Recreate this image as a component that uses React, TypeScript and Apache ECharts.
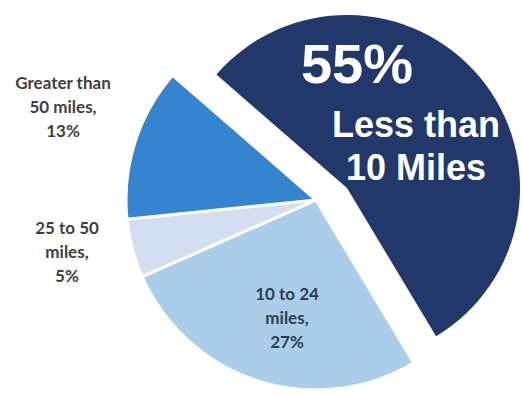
import React, { useEffect, useRef } from "react";
import * as echarts from "echarts";

const categories = ["Less than 10 Miles", "10 to 24 miles", "25 to 50 miles", "Greater than 50 miles"];
const shares = [55, 27, 5, 13];
const labelTexts = ["Less than\n10 Miles", "10 to 24\nmiles,", "25 to 50\nmiles,", "Greater than\n50 miles,"];

const sliceColors = ["#22386a", "#abcdea", "#d3dff0", "#3584cf"];
const labelColors = ["#ffffff", "#2c3e50", "#3f3f3f", "#3f3f3f"];
// label anchor points (centre of each label block)
const labelAnchors: [number, number][] = [
  [416, 106],
  [287, 317],
  [67, 251],
  [63, 106],
];

export default function App() {
  const ref = useRef<HTMLDivElement>(null);
  useEffect(() => {
    document.body.style.margin = "0";
    if (!ref.current) return;
    const chart = echarts.init(ref.current, undefined, { renderer: "svg" });
    const hidden = { color: "rgba(0,0,0,0)", borderWidth: 0 };

    const darkData = shares.map((v, i) => ({
      name: categories[i],
      value: v,
      itemStyle: i === 0 ? { color: sliceColors[0], borderWidth: 0 } : hidden,
      label: i === 0 ? { show: true } : { show: false },
    }));
    const restData = shares.map((v, i) => ({
      name: categories[i],
      value: v,
      itemStyle: i === 0 ? hidden : { color: sliceColors[i], borderColor: "#ffffff", borderWidth: 3 },
      label: i === 0 ? { show: false } : { show: true, color: labelColors[i] },
    }));

    const layout = (p: any) => {
      const [x, y] = labelAnchors[p.dataIndex];
      return { x, y, align: "center", verticalAlign: "middle" };
    };

    chart.setOption({
      animation: false,
      backgroundColor: "#ffffff",
      series: [
        {
          type: "pie",
          center: [347, 188],
          radius: 173,
          startAngle: 139,
          clockwise: true,
          silent: true,
          avoidLabelOverlap: false,
          labelLine: { show: false },
          label: {
            position: "outside",
            formatter: (p: any) =>
              `{pct|${shares[p.dataIndex]}%}\n{main|${labelTexts[p.dataIndex].split("\n")[0]}}\n{main|${labelTexts[p.dataIndex].split("\n")[1]}}`,
            rich: {
              pct: {
                fontFamily: "Liberation Sans, Arial, sans-serif",
                fontWeight: "bold",
                fontSize: 56,
                lineHeight: 79,
                color: labelColors[0],
                padding: [0, 118, 0, 0],
              },
              main: {
                fontFamily: "Liberation Sans, Arial, sans-serif",
                fontWeight: "bold",
                fontSize: 36,
                lineHeight: 43,
                color: labelColors[0],
              },
            },
          },
          labelLayout: layout,
          data: darkData,
        },
        {
          type: "pie",
          center: [316, 200],
          radius: 190,
          startAngle: 139,
          clockwise: true,
          silent: true,
          avoidLabelOverlap: false,
          labelLine: { show: false },
          label: {
            position: "outside",
            formatter: (p: any) => `${labelTexts[p.dataIndex]}\n${shares[p.dataIndex]}%`,
            fontFamily: "Lato, sans-serif",
            fontWeight: "bold",
            fontSize: 17,
            lineHeight: 24,
          },
          labelLayout: layout,
          data: restData,
        },
      ],
    });
    return () => chart.dispose();
  }, []);
  return <div ref={ref} style={{ width: 522, height: 396 }} />;
}
